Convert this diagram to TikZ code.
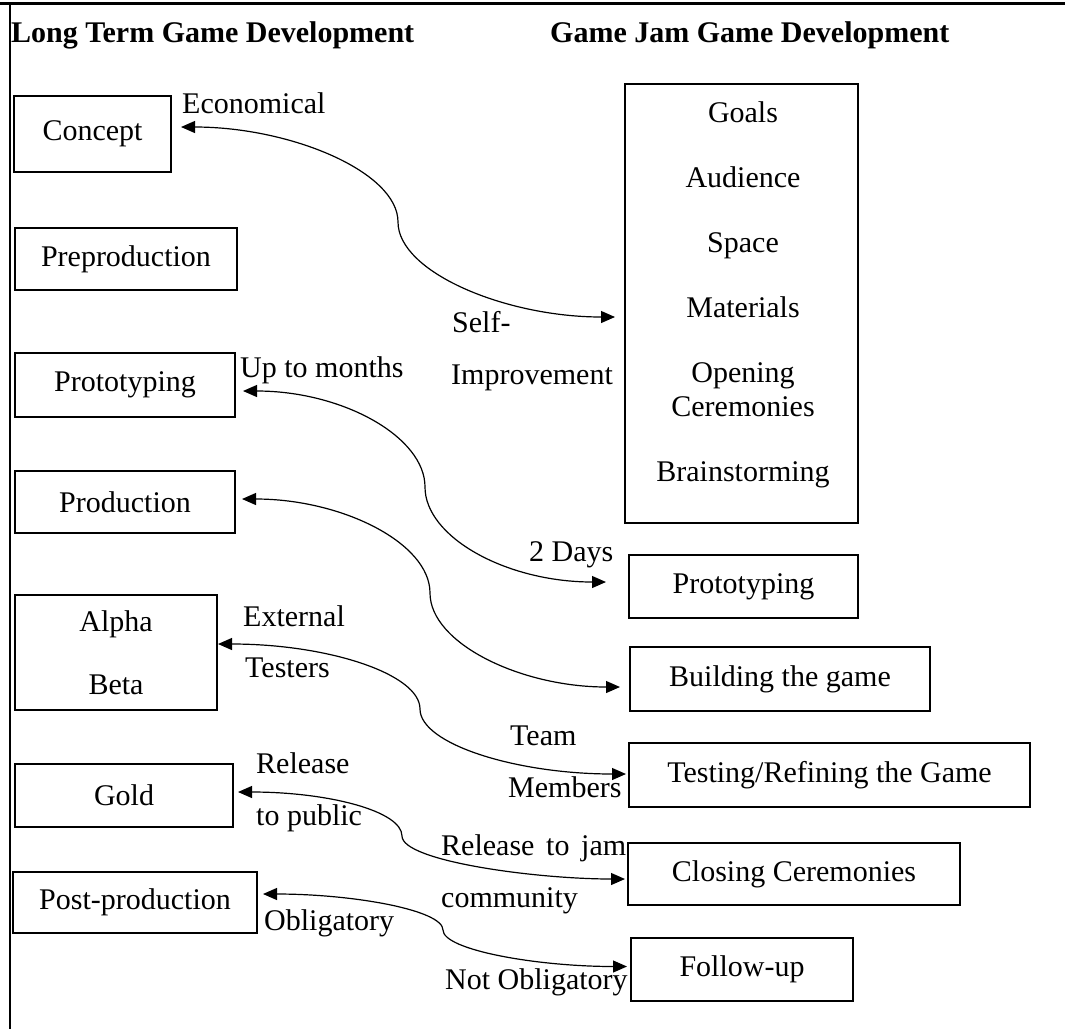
\documentclass[tikz,border=0pt]{standalone}
\usepackage{fontspec}
\setmainfont{Liberation Serif}
\usetikzlibrary{arrows.meta}
\begin{document}
\begin{tikzpicture}[x=1pt,y=-1pt,
  every node/.style={font=\fontsize{30}{36}\selectfont},
  box/.style={draw,line width=2pt,inner sep=0pt,align=center},
  lbl/.style={anchor=base west,inner sep=0pt},
  itm/.style={anchor=base,inner sep=0pt},
  head/.style={anchor=base west,inner sep=0pt,font=\fontsize{30}{36}\selectfont\bfseries},
  link/.style={line width=1.2pt,{Triangle[length=14pt,width=12pt]}-{Triangle[length=14pt,width=12pt]}}]
\useasboundingbox (0,0) rectangle (1065,1029);
% frame
\draw[line width=3pt] (0,3) -- (1065,3);
\draw[line width=2pt] (10,3) -- (10,1029);
% headings
\node[head] (h1) at (11,42) {Long Term Game Development};
\node[head] (h2) at (550,42) {Game Jam Game Development};
% left boxes
\node[box,minimum width=157pt,minimum height=76pt] (concept) at (92.5,134) {Concept};
\node[box,minimum width=222pt,minimum height=62pt] (preprod) at (126,259) {Preproduction};
\node[box,minimum width=220pt,minimum height=64pt] (protoL) at (125,385) {Prototyping};
\node[box,minimum width=220pt,minimum height=62pt] (production) at (125,502) {Production};
\node[box,minimum width=202pt,minimum height=115pt] (alpha) at (116,652.5) {Alpha\\[27pt]Beta};
\node[box,minimum width=218pt,minimum height=63pt] (gold) at (124,795.5) {Gold};
\node[box,minimum width=244pt,minimum height=61pt] (post) at (135,902.5) {Post-production};
% right boxes
\node[box,minimum width=233pt,minimum height=439pt] (big) at (741.5,303.5) {};
\node[itm] (goals) at (743,122) {Goals};
\node[itm] (aud) at (743,187) {Audience};
\node[itm] (space) at (743,252) {Space};
\node[itm] (mat) at (743,317) {Materials};
\node[itm] (open) at (743,382) {Opening};
\node[itm] (cer) at (743,416) {Ceremonies};
\node[itm] (brain) at (743,481) {Brainstorming};
\node[box,minimum width=229pt,minimum height=63pt] (protoR) at (743.5,586.5) {Prototyping};
\node[box,minimum width=300pt,minimum height=64pt] (building) at (780,679) {Building the game};
\node[box,minimum width=401pt,minimum height=64pt] (testing) at (829.5,775) {Testing/Refining the Game};
\node[box,minimum width=332pt,minimum height=62pt] (closing) at (794,874) {Closing Ceremonies};
\node[box,minimum width=222pt,minimum height=63pt] (follow) at (742,969.5) {Follow-up};
% labels
\node[lbl] (l1) at (182,113) {Economical};
\node[lbl] (l2) at (452,332) {Self-};
\node[lbl] (l3) at (451,384) {Improvement};
\node[lbl] (l4) at (240,377) {Up to months};
\node[lbl] (l5) at (529,561) {2 Days};
\node[lbl] (l6) at (243,626) {External};
\node[lbl] (l7) at (245,677) {Testers};
\node[lbl] (l8) at (510,745) {Team};
\node[lbl] (l9) at (508,797) {Members};
\node[lbl] (l10) at (256,773) {Release};
\node[lbl] (l11) at (256,825) {to public};
\node[lbl] (l12) at (441,855) {\makebox[185pt][s]{Release to jam}};
\node[lbl] (l13) at (441,907) {community};
\node[lbl] (l14) at (264,930) {Obligatory};
\node[lbl] (l15) at (445,989) {Not Obligatory};
% connectors
\draw[link] ([xshift=9pt,yshift=7pt]concept.east) .. controls +(110,0) and +(0,-50) .. (398,222)
  .. controls +(0,50) and +(-110,0) .. ([xshift=-9pt,yshift=-13.5pt]big.west);
\draw[link] ([xshift=7pt,yshift=-6pt]protoL.east) .. controls +(100,0) and +(0,-50) .. (425,487)
  .. controls +(0,50) and +(-100,0) .. ([xshift=-22pt,yshift=4.5pt]protoR.west);
\draw[link] ([xshift=6pt,yshift=3pt]production.east) .. controls +(100,0) and +(0,-50) .. (430,593)
  .. controls +(0,50) and +(-100,0) .. ([xshift=-9pt,yshift=-8pt]building.west);
\draw[link] ([yshift=8.5pt]alpha.east) .. controls +(110,0) and +(0,-35) .. (420,709)
  .. controls +(0,35) and +(-110,0) .. ([xshift=-2pt,yshift=1pt]testing.west);
\draw[link] ([xshift=4pt,yshift=3.5pt]gold.east) .. controls +(90,0) and +(0,-25) .. (402,836)
  .. controls +(0,25) and +(-90,0) .. ([xshift=-2pt,yshift=-5pt]closing.west);
\draw[link] ([xshift=5pt,yshift=8.5pt]post.east) .. controls +(90,0) and +(0,-20) .. (443,930)
  .. controls +(0,20) and +(-90,0) .. ([xshift=-3pt,yshift=3pt]follow.west);
\end{tikzpicture}
\end{document}
